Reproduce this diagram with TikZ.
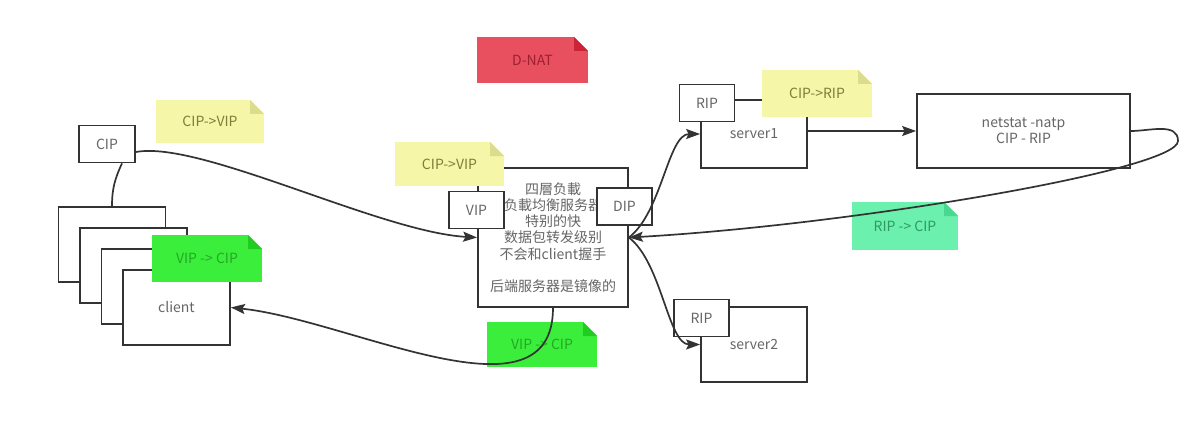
\documentclass[tikz,border=0pt]{standalone}
\usepackage{fontspec}
\setmainfont{Noto Sans CJK SC}
\usetikzlibrary{positioning,arrows.meta,calc}
\definecolor{ink}        {HTML}{333333}
\definecolor{softink}    {HTML}{666666}
\definecolor{lemon}      {HTML}{F6F6A8}
\definecolor{lemonfold}  {HTML}{DCDC8E}
\definecolor{lemontext}  {HTML}{7E7E3A}
\definecolor{lime}       {HTML}{3CEE3C}
\definecolor{limefold}   {HTML}{1FCC1F}
\definecolor{limetext}   {HTML}{24A824}
\definecolor{seafoam}    {HTML}{6CF0AE}
\definecolor{seafoamfold}{HTML}{48D890}
\definecolor{seafoamtext}{HTML}{2E9A62}
\definecolor{coral}      {HTML}{E9505F}
\definecolor{coralfold}  {HTML}{CC2436}
\definecolor{coraltext}  {HTML}{9C2030}
\tikzset{
  every node/.style={font=\fontsize{14}{16.25}\selectfont},
  % --- nodes
  box/.style    = {draw=ink, line width=1.8pt, fill=white, text=softink, inner sep=0pt},
  sticky/.style n args = {3}{draw=none, fill=#1, text=#3, inner sep=0pt,
                  minimum width=109pt, minimum height=45pt,
                  path picture={
                    \coordinate (ne) at (path picture bounding box.north east);
                    \fill[white] ($(ne)+(-14pt,0pt)$) -- (ne) -- ($(ne)+(0pt,-14pt)$) -- cycle;
                    \fill[#2] ($(ne)+(-14pt,0pt)$) -- ($(ne)+(-14pt,-14pt)$)
                              -- ($(ne)+(0pt,-14pt)$) -- cycle;}},
  yellownote/.style = {sticky={lemon}{lemonfold}{lemontext}},
  greennote/.style  = {sticky={lime}{limefold}{limetext}},
  mintnote/.style   = {sticky={seafoam}{seafoamfold}{seafoamtext}},
  rednote/.style    = {sticky={coral}{coralfold}{coraltext}},
  % --- edges
  ln/.style     = {line width=1.7pt, draw=ink},
  e/.style      = {ln, -{Stealth[length=14pt,width=10pt,inset=2.5pt]}},
}
\begin{document}
\begin{tikzpicture}[x=1pt,y=-1pt,
  stack/.style={box, minimum width=107pt, minimum height=75pt},
  tag/.style={box, minimum width=55pt, minimum height=37pt},
]
  \useasboundingbox (0,0) rectangle (1191,433);

  % client stack
  \node[stack] (c1) at (112,244.5) {};
  \node[stack] (c2) at (133.5,265.5) {};
  \node[stack] (c3) at (155,286.5) {};
  \node[stack] (client) at (176.5,307.5) {client};
  \node[tag, minimum width=56pt] (cip) at (107,144) {CIP};

  % load balancer
  \node[box, minimum width=150pt, minimum height=139pt, align=center] (lb) at (553,237.5)
    {四層负載\\负載均衡服务器\\特别的快\\数据包转发级别\\不会和client握手\\[16.25pt]后端服务器是镜像的};
  \node[tag] (vip) at (476.5,210) {VIP};
  \node[tag] (dip) at (624.5,206.5) {DIP};

  % real servers
  \node[box, minimum width=106pt, minimum height=68pt] (s1) at (754,134) {server1};
  \node[tag] (rip1) at (707,103) {RIP};
  \node[box, minimum width=106pt, minimum height=75pt] (s2) at (754,344.5) {server2};
  \node[tag] (rip2) at (701.5,318) {RIP};
  \node[box, minimum width=213pt, minimum height=74pt, align=center] (ns) at (1023.5,131)
    {netstat -natp\\CIP - RIP};

  % notes
  \node[rednote, minimum width=111pt, minimum height=46pt] (dnat) at (532.5,60) {D-NAT};
  \node[yellownote, minimum width=108pt, minimum height=43pt] (n1) at (210,121.5) {CIP->VIP};
  \node[yellownote, minimum height=44pt] (n2) at (449.5,164) {CIP->VIP};
  \node[yellownote, minimum width=110pt, minimum height=47pt] (n3) at (817,93.5) {CIP->RIP};
  \node[greennote, minimum width=110pt, minimum height=47pt] (n4) at (207,258.5) {VIP -> CIP};
  \node[greennote, minimum width=110pt] (n5) at (542,344.5) {VIP -> CIP};
  \node[mintnote, minimum width=106pt, minimum height=48pt] (n6) at (905,226) {RIP -> CIP};

  % connectors
  \coordinate (loopend) at (1178,141);
  \draw[ln] ([xshift=15pt]cip.south) to[out=-115,in=90] (c1.north);
  \draw[e] ([yshift=-8pt]cip.east) .. controls (200,140) and (380,232) .. (lb.west);
  \draw[e] (lb.east) .. controls (662,212) and (668,134) .. (s1.west);
  \draw[e] (lb.east) .. controls (662,263) and (668,344.5) .. (s2.west);
  \draw[e] (s1.east |- ns.west) -- (ns.west);
  \draw[e] (ns.east) to[out=0,in=90] (loopend) .. controls (1178,170) and (850,225) .. (lb.east);
  \draw[e] (lb.south) .. controls (553,428) and (350,320) .. (client.east);
\end{tikzpicture}
\end{document}
